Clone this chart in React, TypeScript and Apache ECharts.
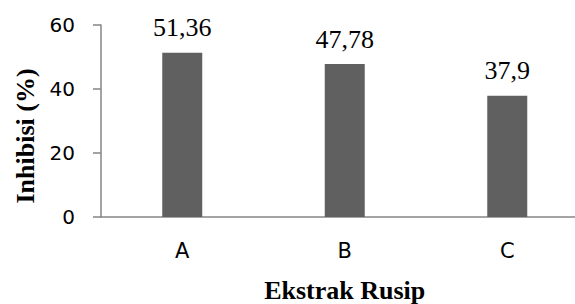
import React, { useEffect, useRef } from "react";
import * as echarts from "echarts";

const categories = ["A", "B", "C"];
const values = [51.36, 47.78, 37.9];
const valueLabels = ["51,36", "47,78", "37,9"];
const yTicks = [0, 20, 40, 60];

export default function App() {
  const ref = useRef<HTMLDivElement>(null);
  useEffect(() => {
    if (!ref.current) return;
    const chart = echarts.init(ref.current, null, { renderer: "svg" });
    chart.setOption({
      animation: false,
      backgroundColor: "#ffffff",
      grid: { left: 101, top: 25, width: 487.5, height: 192, outerBoundsMode: "none", containLabel: false },
      xAxis: {
        type: "category",
        data: categories,
        axisLine: { show: true, lineStyle: { color: "#868686", width: 1.5 } },
        axisTick: { show: false },
        axisLabel: {
          margin: 23,
          fontFamily: "DejaVu Sans",
          fontSize: 21,
          color: "#000000",
        },
      },
      yAxis: {
        type: "value",
        min: yTicks[0],
        max: yTicks[yTicks.length - 1],
        interval: 20,
        splitLine: { show: false },
        axisLine: { show: true, lineStyle: { color: "#868686", width: 1.5 } },
        axisTick: { show: true, length: 8, lineStyle: { color: "#868686", width: 1.5 } },
        axisLabel: {
          margin: 26,
          fontFamily: "DejaVu Sans",
          fontSize: 20,
          color: "#000000",
        },
      },
      series: [
        {
          type: "bar",
          data: values,
          barWidth: 40,
          itemStyle: { color: "#606060" },
          label: {
            show: true,
            position: "top",
            distance: 12,
            fontFamily: "Liberation Serif",
            fontSize: 26,
            color: "#000000",
            formatter: (p: any) => valueLabels[p.dataIndex],
          },
        },
      ],
      graphic: [
        {
          type: "text",
          x: 344.7,
          y: 303,
          style: {
            text: "Ekstrak Rusip",
            font: "bold 26px 'Liberation Serif'",
            fill: "#000000",
            textAlign: "center",
            textVerticalAlign: "bottom",
          },
        },
        {
          type: "text",
          x: 25,
          y: 136,
          rotation: Math.PI / 2,
          style: {
            text: "Inhibisi (%)",
            font: "bold 26px 'Liberation Serif'",
            fill: "#000000",
            textAlign: "center",
            textVerticalAlign: "middle",
          },
        },
      ],
    });
    return () => chart.dispose();
  }, []);
  return (
    <div
      ref={ref}
      style={{ position: "fixed", left: 0, top: 0, width: 575, height: 304 }}
    />
  );
}
